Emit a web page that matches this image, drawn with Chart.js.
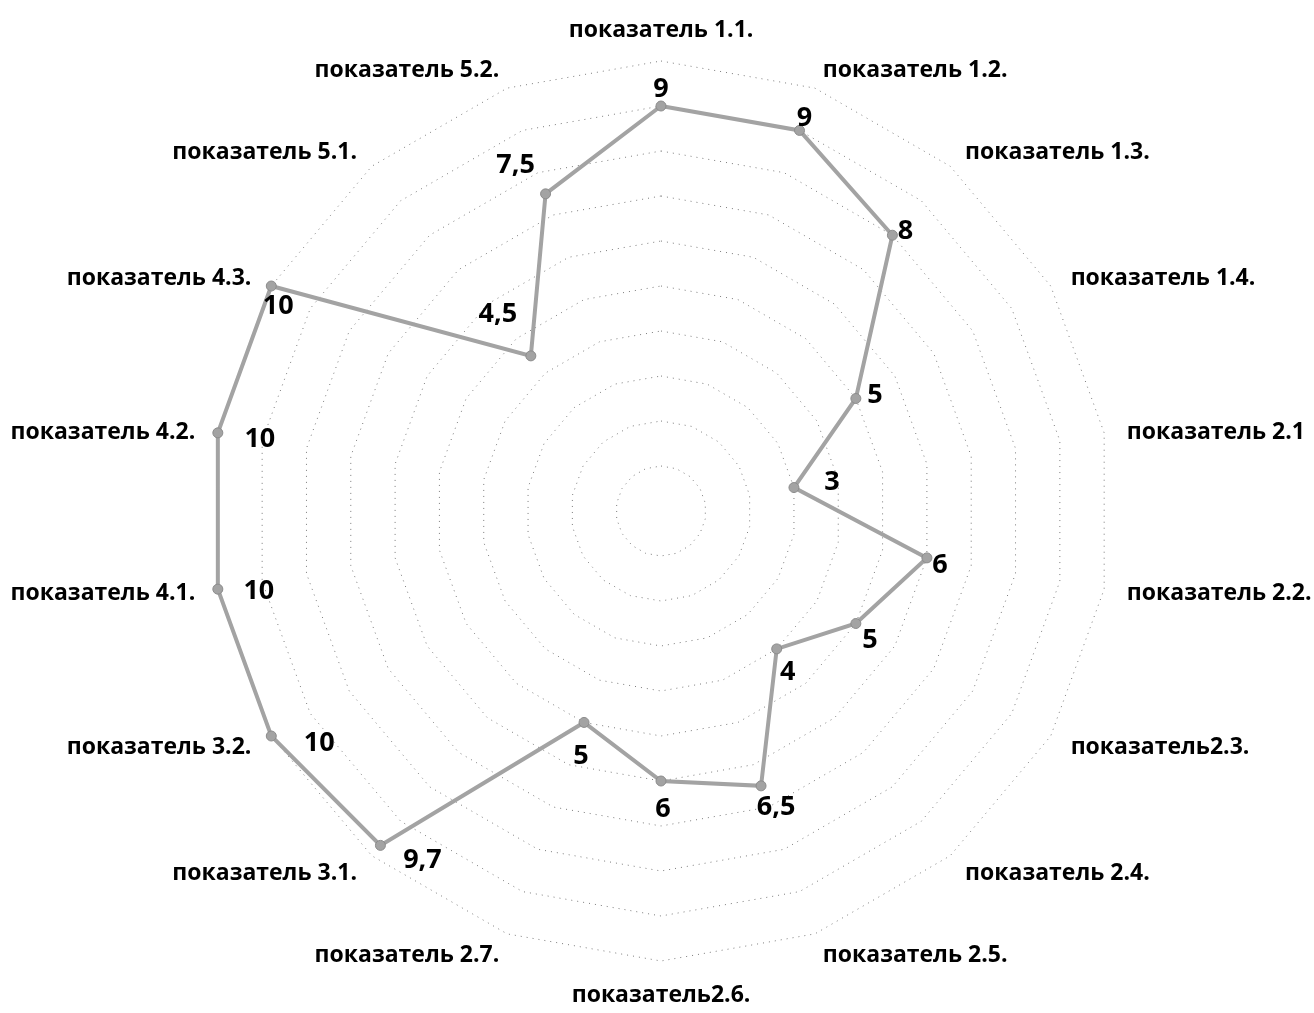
<!DOCTYPE html>
<html>
<head>
<meta charset="utf-8">
<script src="https://cdn.jsdelivr.net/npm/chart.js@4"></script>
<style>
  html, body { margin: 0; padding: 0; background: #fff; }
  #wrap { width: 1314px; height: 1013px; position: relative; }
</style>
</head>
<body>
<div id="wrap"><canvas id="myChart"></canvas></div>
<script>
// categories, clockwise from the top
const labels = [
    "показатель 1.1.", "показатель 1.2.", "показатель 1.3.", "показатель 1.4.",
    "показатель 2.1", "показатель 2.2.", "показатель2.3.", "показатель 2.4.",
    "показатель 2.5.", "показатель2.6.", "показатель 2.7.", "показатель 3.1.",
    "показатель 3.2.", "показатель 4.1.", "показатель 4.2.", "показатель 4.3.",
    "показатель 5.1.", "показатель 5.2."
];
const values = [9, 9, 8, 5, 3, 6, 5, 4, 6.5, 6, 5, 9.7, 10, 10, 10, 10, 4.5, 7.5];

// where each value label sits relative to its point (px)
const labelOffsets = [
    [0, -17], [5, -12], [13, -4], [19, -3], [38, -5], [13, 7], [14, 17], [11, 23],
    [15, 21], [2, 28], [-3, 34], [42, 15], [48, 7], [41, 2], [42, 6], [7, 20],
    [-33, -42], [-30, -29]
];

// category names drawn around the outer ring, vertically centred like excel does
const categoryLabels = {
    id: 'categoryLabels',
    afterDraw(chart) {
        const ctx = chart.ctx;
        const scale = chart.scales.r;
        ctx.save();
        ctx.font = "bold 23px 'Open Sans'";
        ctx.fillStyle = '#000';
        labels.forEach((txt, i) => {
            const p = scale.getPointPosition(i, scale.drawingArea + 23);
            const dx = p.x - scale.xCenter;
            if (Math.abs(dx) < 1) {
                ctx.textAlign = 'center';
                ctx.textBaseline = p.y < scale.yCenter ? 'bottom' : 'top';
            } else {
                ctx.textAlign = dx > 0 ? 'left' : 'right';
                ctx.textBaseline = 'middle';
            }
            ctx.fillText(txt, p.x, p.y + (p.y < scale.yCenter - 50 ? 4 : 0));
        });
        ctx.restore();
    }
};

const valueLabels = {
    id: 'valueLabels',
    afterDatasetsDraw(chart) {
        const ctx = chart.ctx;
        const meta = chart.getDatasetMeta(0);
        ctx.save();
        ctx.font = "bold 27px 'Open Sans'";
        ctx.fillStyle = '#000';
        ctx.textAlign = 'center';
        ctx.textBaseline = 'middle';
        meta.data.forEach((pt, i) => {
            const off = labelOffsets[i];
            const txt = String(values[i]).replace('.', ',');
            ctx.fillText(txt, pt.x + off[0], pt.y + off[1]);
        });
        ctx.restore();
    }
};

const canvas = document.getElementById("myChart");

new Chart(canvas, {
    type: 'radar',
    data: {
        labels: labels,
        datasets: [{
            data: values,
            borderColor: '#a3a3a3',
            borderWidth: 4,
            backgroundColor: 'rgba(0,0,0,0)',
            fill: false,
            pointRadius: 5,
            pointBackgroundColor: '#a3a3a3',
            pointBorderColor: '#8c8c8c',
            pointBorderWidth: 1,
            tension: 0
        }]
    },
    options: {
        responsive: true,
        maintainAspectRatio: false,
        animation: false,
        layout: { padding: { top: 61, bottom: 52, left: 8, right: 0 } },
        plugins: {
            legend: { display: false },
            tooltip: { enabled: false }
        },
        scales: {
            r: {
                min: 0,
                max: 10,
                ticks: { stepSize: 1, display: false },
                angleLines: { display: false },
                grid: {
                    color: '#7a7a7a',
                    lineWidth: 1
                },
                border: { dash: [1, 5] },
                pointLabels: { display: false }
            }
        }
    },
    plugins: [valueLabels, categoryLabels]
});
</script>
</body>
</html>
